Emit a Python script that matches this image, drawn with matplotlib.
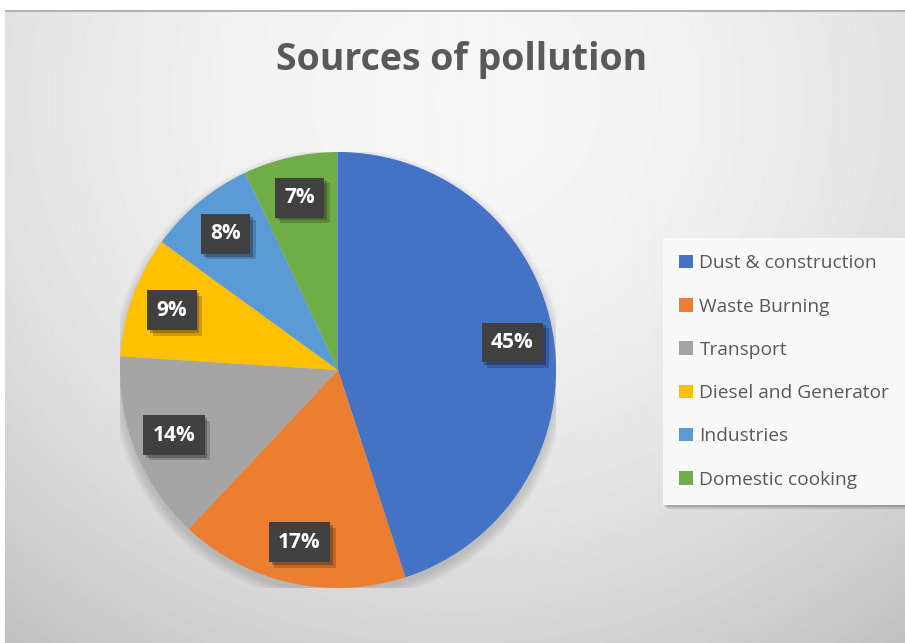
import numpy as np
import matplotlib
matplotlib.use("Agg")
import matplotlib.pyplot as plt
import matplotlib.patheffects as pe
from matplotlib.patches import Circle

# data
sources = ["Dust & construction", "Waste Burning", "Transport",
           "Diesel and Generator", "Industries", "Domestic cooking"]
shares = [45, 17, 14, 9, 8, 7]
colours = ["#4472c4", "#ed7d31", "#a5a5a5", "#ffc000", "#5b9bd5", "#70ad47"]

W, H = 905, 643
fig = plt.figure(figsize=(W / 100, H / 100), dpi=100)
fig.patch.set_facecolor("white")

# radial grey gradient behind everything (chart area starts a bit below the top)
bg = fig.add_axes([5 / W, 0, 1 - 5 / W, 1 - 10 / H], zorder=-10)
yy, xx = np.mgrid[0:633, 0:900]
d = np.sqrt(((xx - 450) / 700.0) ** 2 + ((yy - 90) / 650.0) ** 2)
shade = 0.965 - 0.19 * np.clip(d, 0, 1.2) ** 2
bg.imshow(shade, cmap="gray", vmin=0, vmax=1, aspect="auto",
          extent=[0, 1, 0, 1], origin="upper")
bg.axhline(1, color="#b0b0b0", lw=2)
bg.set_axis_off()

# pie area: centre ~(338, 370) px, radius ~218 px
cx, cy, r = 338, 370, 218
ax = fig.add_axes([(cx - r) / W, (H - cy - r) / H, 2 * r / W, 2 * r / H])
ax.set_facecolor("none")

# soft shadow under the pie
for k in range(8):
    ax.add_patch(Circle((0, -0.025), 1.0 + 0.006 * k, facecolor="#606060",
                        edgecolor="none", alpha=0.035, zorder=0))

wedges, _, autotexts = ax.pie(
    shares, colors=colours, startangle=90, counterclock=False,
    radius=1.0, pctdistance=0.81,
    autopct=lambda p: "%d%%" % round(p),
    wedgeprops=dict(linewidth=0, zorder=2),
    textprops=dict(color="white", fontsize=15, fontweight="bold", family="Open Sans"),
)
for t in autotexts:
    t.set_zorder(5)
    t.set_bbox(dict(boxstyle="square,pad=0.45", facecolor="#404040", edgecolor="none"))
    t.get_bbox_patch().set_path_effects([
        pe.SimplePatchShadow(offset=(4, -4), shadow_rgbFace="black", alpha=0.18),
        pe.SimplePatchShadow(offset=(2, -2), shadow_rgbFace="black", alpha=0.25),
        pe.Normal()])
ax.set_xlim(-1, 1)
ax.set_ylim(-1, 1)
ax.set_aspect("equal")

fig.text(462 / W, 1 - 60 / H, "Sources of pollution", ha="center", va="center",
         fontsize=27, fontweight="bold", color="#595959", family="Open Sans")

leg = fig.legend(wedges, sources, loc="upper left",
                 bbox_to_anchor=(663 / W, 1 - 238 / H),
                 frameon=True, fancybox=False, shadow=False,
                 facecolor="#f9f9f9", edgecolor="none", framealpha=1,
                 prop=dict(family="Open Sans", size=13.8),
                 handlelength=0.7, handleheight=0.7, handletextpad=0.35,
                 labelspacing=1.32, borderpad=0.85, borderaxespad=0,
                 labelcolor="#595959")
leg.get_frame().set_path_effects([
    pe.SimplePatchShadow(offset=(3, -3), shadow_rgbFace="black", alpha=0.12),
    pe.SimplePatchShadow(offset=(1.5, -1.5), shadow_rgbFace="black", alpha=0.15),
    pe.Normal()])

fig.savefig("out.png", dpi=100)
